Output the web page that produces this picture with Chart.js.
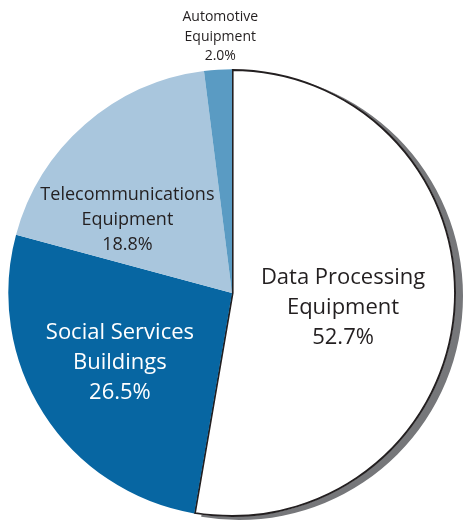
<!DOCTYPE html>
<html>
<head>
<meta charset="utf-8">
<script src="https://cdn.jsdelivr.net/npm/chart.js@4/dist/chart.umd.min.js"></script>
<style>
  html, body { margin: 0; padding: 0; background: #ffffff; }
  #wrap { width: 463px; height: 523px; position: relative; }
</style>
</head>
<body>
<div id="wrap"><canvas id="pie"></canvas></div>
<script>
// Shares of spending by category (percent)
const categories = [
  ["Data Processing", "Equipment"],
  ["Social Services", "Buildings"],
  ["Telecommunications", "Equipment"],
  ["Automotive", "Equipment"]
];
const shares = [52.7, 26.5, 18.8, 2.0];

const sliceColors = ["#ffffff", "#0766a2", "#a9c6dd", "#5a9bc3"];
const textColors = ["#231f20", "#ffffff", "#231f20", "#231f20"];
const fontSizes = [22, 22, 18, 14];
const lineGaps = [30, 30, 25, 19.5];
// label anchor: [angle in degrees (screen, clockwise from 3 o'clock), distance as fraction of radius]
const labelAnchors = [[7.5, 0.5], [148, 0.59], [215, 0.57], [-93, 1.0]];

const FONT = "'Open Sans', 'Noto Sans', sans-serif";

// Drop shadow behind the large white slice
const shadowPlugin = {
  id: "sliceShadow",
  beforeDatasetsDraw(chart) {
    const arc = chart.getDatasetMeta(0).data[0];
    if (!arc) return;
    const { x, y, startAngle, endAngle, outerRadius } = arc.getProps(["x", "y", "startAngle", "endAngle", "outerRadius"], true);
    const ctx = chart.ctx;
    ctx.save();
    ctx.fillStyle = "#76777a";
    ctx.beginPath();
    ctx.moveTo(x + 7, y + 3);
    ctx.arc(x + 7, y + 3, outerRadius, startAngle, endAngle);
    ctx.closePath();
    ctx.fill();
    ctx.restore();
  }
};

// Category name and percentage written on (or above) each slice
const labelPlugin = {
  id: "sliceLabels",
  afterDatasetsDraw(chart) {
    const meta = chart.getDatasetMeta(0);
    const ctx = chart.ctx;
    meta.data.forEach((arc, i) => {
      const { x, y, outerRadius } = arc.getProps(["x", "y", "outerRadius"], true);
      const [deg, frac] = labelAnchors[i];
      const a = deg * Math.PI / 180;
      const cx = x + Math.cos(a) * outerRadius * frac;
      const cy = y + Math.sin(a) * outerRadius * frac;
      const lines = [...categories[i], shares[i].toFixed(1) + "%"];
      ctx.save();
      ctx.font = fontSizes[i] + "px " + FONT;
      ctx.fillStyle = textColors[i];
      ctx.textAlign = "center";
      ctx.textBaseline = "middle";
      let startY;
      if (i === 3) {
        // outside the pie, stacked upward from the rim
        startY = cy - 13 - lineGaps[i] * (lines.length - 1);
      } else {
        startY = cy - lineGaps[i] * (lines.length - 1) / 2;
      }
      lines.forEach((t, k) => ctx.fillText(t, cx, startY + k * lineGaps[i]));
      ctx.restore();
    });
  }
};

new Chart(document.getElementById("pie"), {
  type: "pie",
  data: {
    labels: categories.map(c => c.join(" ")),
    datasets: [{
      data: shares,
      backgroundColor: sliceColors,
      borderColor: "#231f20",
      borderWidth: [1.6, 0, 0, 0],
      borderAlign: "inner"
    }]
  },
  options: {
    responsive: true,
    maintainAspectRatio: false,
    animation: false,
    radius: 224,
    layout: { padding: { left: 8, right: 7, top: 69, bottom: 6 } },
    plugins: {
      legend: { display: false },
      tooltip: { enabled: false }
    },
    events: []
  },
  plugins: [shadowPlugin, labelPlugin]
});
</script>
</body>
</html>
